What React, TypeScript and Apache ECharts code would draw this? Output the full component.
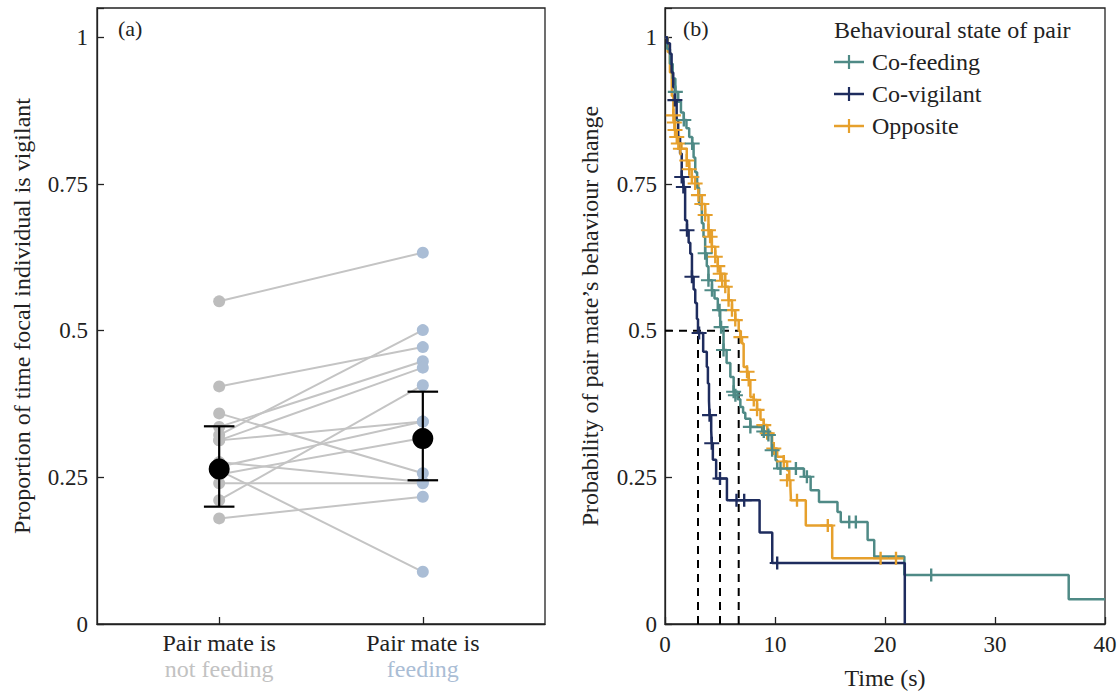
import React, { useEffect, useRef } from "react";
import * as echarts from "echarts";

// ---------- Panel (a) data ----------
const groupPositions = [1, 2];
const groupLine1 = ["Pair mate is", "Pair mate is"];
const groupLine2 = ["not feeding", "feeding"];
const pairLeft = [0.55, 0.405, 0.359, 0.336, 0.322, 0.313, 0.313, 0.276, 0.268, 0.262, 0.255, 0.24, 0.211, 0.18];
const pairRight = [0.633, 0.472, 0.257, 0.448, 0.501, 0.437, 0.345, 0.242, 0.345, 0.089, 0.317, 0.24, 0.407, 0.217];
const meanValues = [0.264, 0.316];
const ciLow = [0.2, 0.245];
const ciHigh = [0.337, 0.396];
const yTicks = [0, 0.25, 0.5, 0.75, 1];

// ---------- Panel (b) data ----------
const timeTicks = [0, 10, 20, 30, 40];
const seriesNames = ["Co-feeding", "Co-vigilant", "Opposite"];
const coFeedingSteps: number[][] = [
  [0, 1], [0.2, 0.98], [0.45, 0.955], [0.7, 0.93], [0.94, 0.907], [1.2, 0.89], [1.45, 0.872], [1.71, 0.859],
  [1.95, 0.845], [2.2, 0.83], [2.47, 0.819], [2.6, 0.795], [2.75, 0.77], [2.92, 0.743], [3.1, 0.715], [3.35, 0.683],
  [3.5, 0.66], [3.65, 0.632], [3.8, 0.61], [3.95, 0.586], [4.27, 0.569], [4.5, 0.555], [4.8, 0.535], [5.02, 0.506],
  [5.32, 0.467], [5.6, 0.445], [5.94, 0.421], [6.24, 0.396], [6.6, 0.383], [6.85, 0.37], [7.1, 0.36], [7.3, 0.35],
  [7.76, 0.336], [8.83, 0.328], [9.35, 0.322], [9.7, 0.296], [10.05, 0.279], [10.2, 0.265], [12.63, 0.251],
  [13.24, 0.228], [14.0, 0.208], [15.68, 0.191], [15.98, 0.174], [18.42, 0.143], [19.02, 0.115], [21.76, 0.0835],
  [36.7, 0.042], [40, 0.042],
];
const coFeedingCensored: number[][] = [
  [0.94, 0.907], [1.71, 0.859], [2.47, 0.819], [3.65, 0.632], [3.95, 0.586], [4.27, 0.569], [4.96, 0.535],
  [5.1, 0.506], [5.32, 0.467], [6.24, 0.396], [6.4, 0.39], [7.76, 0.336], [8.98, 0.328], [9.4, 0.322],
  [9.74, 0.296], [10.5, 0.265], [11.9, 0.265], [12.9, 0.251], [16.75, 0.174], [17.35, 0.174], [24.2, 0.0835],
];
const coVigilantSteps: number[][] = [
  [0, 1], [0.2, 0.99], [0.45, 0.972], [0.6, 0.94], [0.75, 0.915], [0.9, 0.893], [1.06, 0.859], [1.2, 0.83],
  [1.37, 0.802], [1.52, 0.762], [1.67, 0.745], [1.83, 0.688], [2.0, 0.671], [2.15, 0.65], [2.3, 0.631],
  [2.45, 0.592], [2.6, 0.57], [2.75, 0.547], [2.9, 0.52], [3.0, 0.496], [3.47, 0.464], [3.8, 0.438], [3.9, 0.41],
  [4.0, 0.38], [4.05, 0.356], [4.2, 0.33], [4.25, 0.308], [4.35, 0.28], [4.65, 0.248], [5.63, 0.211],
  [8.6, 0.156], [9.75, 0.104], [21.8, 0],
];
const coVigilantCensored: number[][] = [
  [0.9, 0.893], [1.52, 0.762], [1.67, 0.745], [2.0, 0.671], [2.45, 0.592], [3.1, 0.496], [4.05, 0.356],
  [4.25, 0.308], [5.0, 0.248], [6.5, 0.211], [7.2, 0.211], [10.2, 0.104],
];
const oppositeSteps: number[][] = [
  [0, 1], [0.25, 0.975], [0.45, 0.94], [0.62, 0.9], [0.76, 0.867], [0.91, 0.842], [1.07, 0.83], [1.21, 0.819],
  [1.5, 0.81], [1.98, 0.79], [2.2, 0.775], [2.44, 0.762], [2.74, 0.751], [3.04, 0.731], [3.35, 0.716],
  [3.65, 0.697], [3.95, 0.671], [4.26, 0.643], [4.57, 0.626], [4.8, 0.61], [5.02, 0.597], [5.48, 0.575],
  [5.78, 0.552], [6.09, 0.535], [6.39, 0.518], [6.7, 0.5], [6.85, 0.489], [7.0, 0.478], [7.15, 0.438],
  [7.46, 0.43], [7.61, 0.416], [7.76, 0.387], [8.07, 0.382], [8.37, 0.365], [8.68, 0.348], [8.98, 0.339],
  [9.29, 0.325], [9.74, 0.308], [9.89, 0.299], [10.2, 0.285], [10.8, 0.277], [11.1, 0.262], [11.3, 0.245],
  [11.4, 0.234], [11.45, 0.211], [12.8, 0.168], [15.2, 0.112], [21.8, 0.112],
];
const oppositeCensored: number[][] = [
  [0.76, 0.867], [0.85, 0.855], [0.91, 0.842], [1.07, 0.83], [1.21, 0.819], [1.4, 0.81], [1.98, 0.79],
  [2.2, 0.775], [2.44, 0.762], [2.74, 0.751], [3.04, 0.731], [3.35, 0.716], [3.65, 0.697], [3.95, 0.671],
  [4.1, 0.66], [4.26, 0.643], [4.57, 0.626], [4.8, 0.61], [5.02, 0.597], [5.2, 0.585], [5.48, 0.575],
  [5.78, 0.552], [6.09, 0.535], [6.39, 0.518], [6.9, 0.489], [7.46, 0.43], [7.61, 0.416], [8.07, 0.382],
  [8.37, 0.365], [8.98, 0.339], [9.29, 0.325], [9.89, 0.299], [10.8, 0.277], [11.1, 0.245], [12.0, 0.211],
  [14.8, 0.168], [19.6, 0.112], [21.0, 0.112],
];
const medianTimes = [3.0, 5.0, 6.7];
const medianLevel = 0.5;

const COLORS = ["#4f8a86", "#1e2c5e", "#e6a02c"];
const FONT = "Liberation Serif";
const TXT = "#222";
const GREY_PT = "#bdbdbd";
const BLUE_PT = "#aabdd5";
const PLUS = "path://M5,0 L5,10 M0,5 L10,5";
const TICK_FS = 23;
const NAME_FS = 24;

export default function App() {
  const ref = useRef<HTMLDivElement>(null);
  useEffect(() => {
    if (!ref.current) return;
    const chart = echarts.init(ref.current, undefined, { renderer: "svg" });
    const axisLineStyle = { color: TXT, width: 1.3 };
    const yLabelFmt = (v: number) => (v > 1.0001 ? "" : String(v));

    const series: any[] = [];
    // Panel (a) pair lines
    pairLeft.forEach((l, i) => {
      series.push({
        type: "line", xAxisIndex: 0, yAxisIndex: 0, silent: true, showSymbol: false,
        lineStyle: { color: "#c4c4c4", width: 2 },
        data: [[groupPositions[0], l], [groupPositions[1], pairRight[i]]],
        z: 1,
      });
    });
    series.push({
      type: "scatter", xAxisIndex: 0, yAxisIndex: 0, symbolSize: 12,
      itemStyle: { color: GREY_PT, opacity: 1 }, data: pairLeft.map((v) => [groupPositions[0], v]), z: 2,
    });
    series.push({
      type: "scatter", xAxisIndex: 0, yAxisIndex: 0, symbolSize: 12,
      itemStyle: { color: BLUE_PT, opacity: 1 }, data: pairRight.map((v) => [groupPositions[1], v]), z: 2,
    });
    // error bars
    groupPositions.forEach((x, i) => {
      series.push({
        type: "line", xAxisIndex: 0, yAxisIndex: 0, showSymbol: false, silent: true,
        lineStyle: { color: "#000", width: 2.2 }, data: [[x, ciLow[i]], [x, ciHigh[i]]], z: 3,
      });
      [ciLow[i], ciHigh[i]].forEach((v) => {
        series.push({
          type: "line", xAxisIndex: 0, yAxisIndex: 0, showSymbol: false, silent: true,
          lineStyle: { color: "#000", width: 2.2 }, data: [[x - 0.075, v], [x + 0.075, v]], z: 3,
        });
      });
    });
    series.push({
      type: "scatter", xAxisIndex: 0, yAxisIndex: 0, symbolSize: 21,
      itemStyle: { color: "#000", opacity: 1 }, data: meanValues.map((v, i) => [groupPositions[i], v]), z: 4,
    });

    // Panel (b) median dashed lines
    const dash = { color: "#000", width: 2, type: [8, 6] as any };
    series.push({
      type: "line", xAxisIndex: 1, yAxisIndex: 1, showSymbol: false, silent: true, lineStyle: dash,
      data: [[0, medianLevel], [Math.max(...medianTimes), medianLevel]], z: 1,
    });
    medianTimes.forEach((t) => {
      series.push({
        type: "line", xAxisIndex: 1, yAxisIndex: 1, showSymbol: false, silent: true, lineStyle: dash,
        data: [[t, 0], [t, medianLevel]], z: 1,
      });
    });
    const stepsAll = [coFeedingSteps, coVigilantSteps, oppositeSteps];
    const censAll = [coFeedingCensored, coVigilantCensored, oppositeCensored];
    [2, 0, 1].forEach((k) => {
      series.push({
        name: seriesNames[k], type: "line", step: "end", xAxisIndex: 1, yAxisIndex: 1,
        showSymbol: false, lineStyle: { color: COLORS[k], width: 2.5 }, data: stepsAll[k], z: 2,
      });
      series.push({
        type: "scatter", xAxisIndex: 1, yAxisIndex: 1, symbol: PLUS, symbolSize: [15, 13],
        itemStyle: { color: "transparent", borderColor: COLORS[k], borderWidth: 2.2, opacity: 1 },
        data: censAll[k], z: 3,
      });
    });

    const legendGraphics: any[] = [
      { type: "text", left: 834, top: 18, style: { text: "Behavioural state of pair", font: `${NAME_FS}px "${FONT}"`, fill: TXT } },
    ];
    seriesNames.forEach((n, i) => {
      const y = 62 + i * 32;
      legendGraphics.push({ type: "line", shape: { x1: 834, y1: y, x2: 864, y2: y }, style: { stroke: COLORS[i], lineWidth: 2.5 } });
      legendGraphics.push({ type: "line", shape: { x1: 849, y1: y - 7, x2: 849, y2: y + 7 }, style: { stroke: COLORS[i], lineWidth: 2.2 } });
      legendGraphics.push({ type: "text", x: 872, y, style: { text: n, font: `${NAME_FS}px "${FONT}"`, fill: TXT, verticalAlign: "middle" } });
    });

    chart.setOption({
      animation: false,
      textStyle: { fontFamily: FONT },
      grid: [
        { left: 97, top: 8, width: 448, height: 616, show: true, borderColor: TXT, borderWidth: 1.3, outerBoundsMode: "none", containLabel: false },
        { left: 665, top: 8, width: 440, height: 616, show: true, borderColor: TXT, borderWidth: 1.3, outerBoundsMode: "none", containLabel: false },
      ],
      xAxis: [
        {
          gridIndex: 0, type: "value", min: 0.4, max: 2.6,
          axisLine: { show: true, lineStyle: axisLineStyle },
          axisTick: { show: true, inside: true, length: 7, lineStyle: axisLineStyle, customValues: groupPositions },
          axisLabel: {
            customValues: groupPositions, margin: 6, fontFamily: FONT, fontSize: NAME_FS, color: TXT,
            formatter: (v: number) => {
              const i = groupPositions.indexOf(v);
              if (i < 0) return "";
              return `{a|${groupLine1[i]}}\n{${i === 0 ? "n" : "f"}|${groupLine2[i]}}`;
            },
            rich: {
              a: { fontFamily: FONT, fontSize: NAME_FS, color: TXT, lineHeight: 26 },
              n: { fontFamily: FONT, fontSize: NAME_FS, color: "#c2c2c2", lineHeight: 26 },
              f: { fontFamily: FONT, fontSize: NAME_FS, color: BLUE_PT, lineHeight: 26 },
            },
          },
          splitLine: { show: false },
        },
        {
          gridIndex: 1, type: "value", min: timeTicks[0], max: timeTicks[timeTicks.length - 1], interval: 10,
          name: "Time (s)", nameLocation: "middle", nameGap: 42,
          nameTextStyle: { fontFamily: FONT, fontSize: NAME_FS, color: TXT },
          axisLine: { show: true, lineStyle: axisLineStyle },
          axisTick: { show: true, inside: true, length: 7, lineStyle: axisLineStyle },
          axisLabel: { fontFamily: FONT, fontSize: TICK_FS, color: TXT, margin: 9 },
          splitLine: { show: false },
        },
      ],
      yAxis: [
        {
          gridIndex: 0, type: "value", min: yTicks[0], max: 1.05, interval: 0.25,
          name: "Proportion of time focal individual is vigilant", nameLocation: "middle", nameGap: 63,
          nameTextStyle: { fontFamily: FONT, fontSize: NAME_FS, color: TXT },
          axisLine: { show: true, lineStyle: axisLineStyle },
          axisTick: { show: true, inside: true, length: 7, lineStyle: axisLineStyle },
          axisLabel: { fontFamily: FONT, fontSize: TICK_FS, color: TXT, margin: 9, formatter: yLabelFmt },
          splitLine: { show: false },
        },
        {
          gridIndex: 1, type: "value", min: yTicks[0], max: 1.05, interval: 0.25,
          name: "Probability of pair mate\u2019s behaviour change", nameLocation: "middle", nameGap: 63,
          nameTextStyle: { fontFamily: FONT, fontSize: NAME_FS, color: TXT },
          axisLine: { show: true, lineStyle: axisLineStyle },
          axisTick: { show: true, inside: true, length: 7, lineStyle: axisLineStyle },
          axisLabel: { fontFamily: FONT, fontSize: TICK_FS, color: TXT, margin: 8, formatter: yLabelFmt },
          splitLine: { show: false },
        },
      ],
      graphic: [
        { type: "text", left: 118, top: 17, style: { text: "(a)", font: `22px "${FONT}"`, fill: TXT } },
        { type: "text", left: 683, top: 17, style: { text: "(b)", font: `22px "${FONT}"`, fill: TXT } },
        ...legendGraphics,
      ],
      series,
    });
    return () => chart.dispose();
  }, []);
  return (
    <div
      ref={ref}
      style={{ position: "fixed", left: 0, top: 0, width: 1119, height: 695, background: "#fff" }}
    />
  );
}
